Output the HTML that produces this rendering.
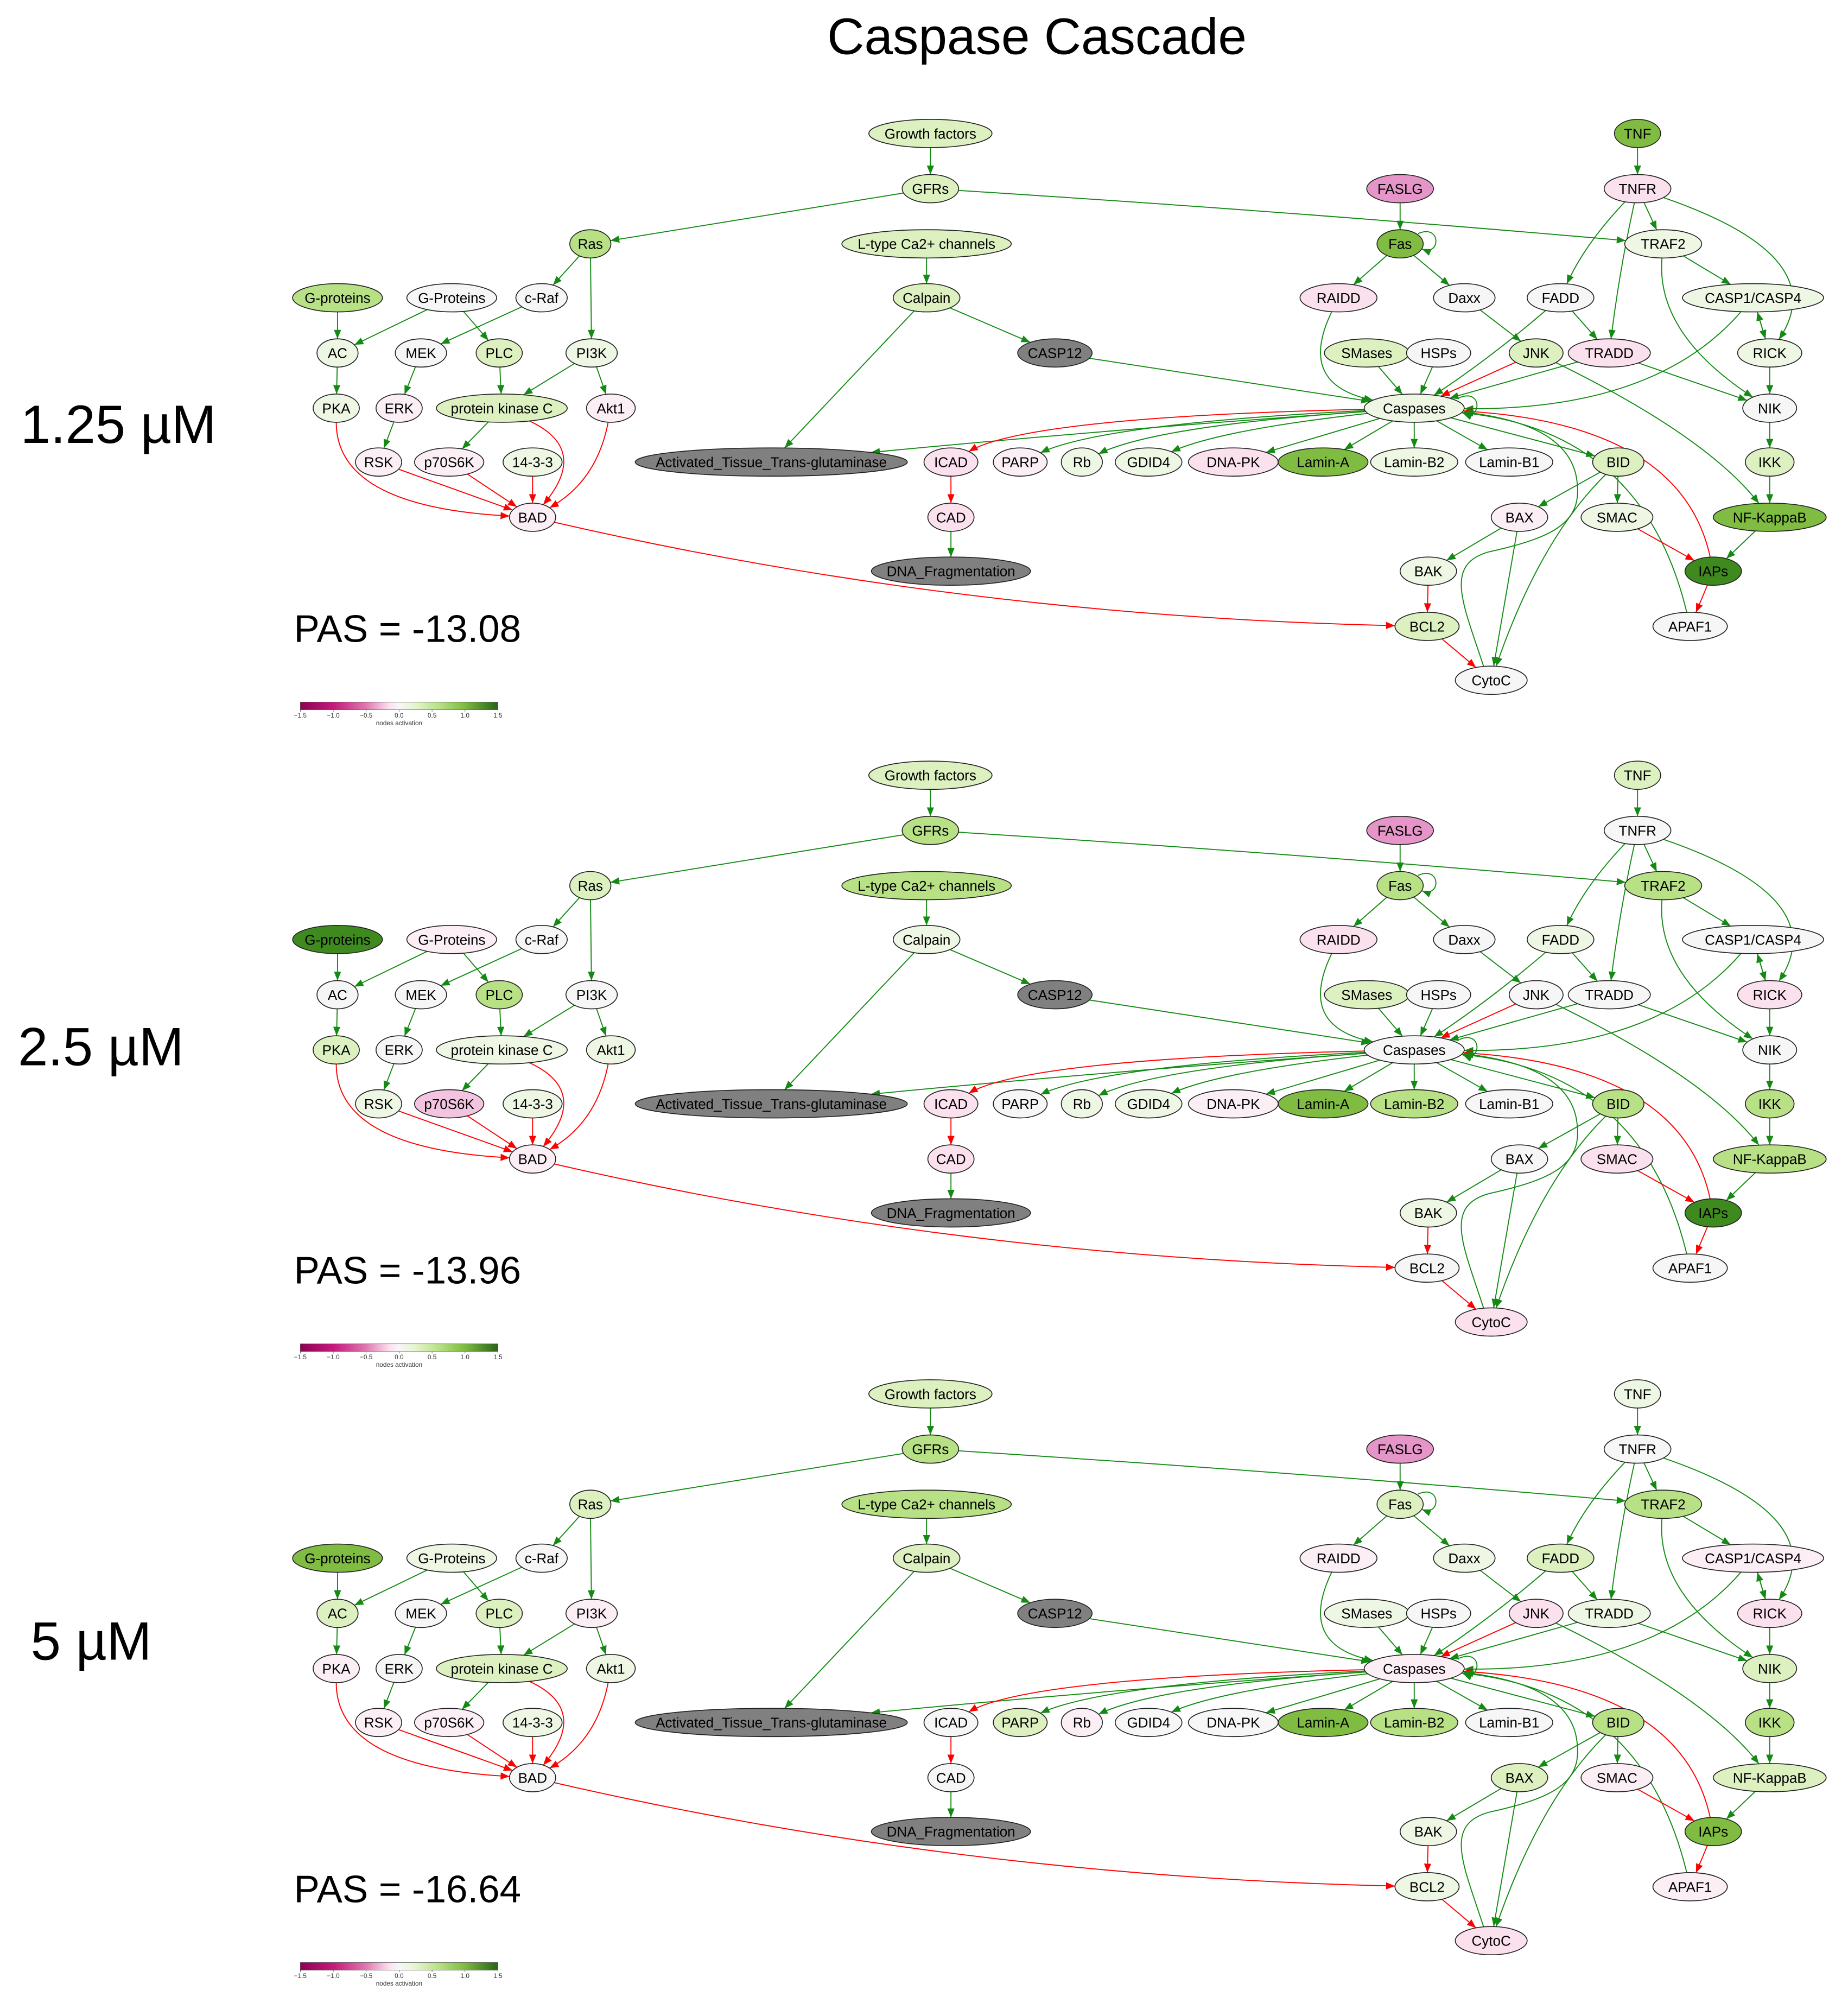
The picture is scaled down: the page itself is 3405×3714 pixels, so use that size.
<!DOCTYPE html>
<html><head><meta charset="utf-8">
<style>
html,body{margin:0;padding:0;background:#fff}
svg{display:block}
text{font-family:"Liberation Sans",Arial,sans-serif}
</style></head>
<body>
<svg id="s" xmlns="http://www.w3.org/2000/svg" width="3405" height="3714" viewBox="0 0 1440 1570.7">
<defs>
<linearGradient id="cb" x1="0" x2="1" y1="0" y2="0">
<stop offset="0" stop-color="#8e0152"/><stop offset="0.17" stop-color="#c51b7d"/><stop offset="0.33" stop-color="#de77ae"/><stop offset="0.45" stop-color="#fde0ef"/><stop offset="0.5" stop-color="#f7f7f7"/><stop offset="0.58" stop-color="#e6f5d0"/><stop offset="0.7" stop-color="#b8e186"/><stop offset="0.83" stop-color="#7fbc41"/><stop offset="1" stop-color="#276419"/>
</linearGradient>
<marker id="ag" viewBox="0 0 10 10" refX="10" refY="5" markerWidth="7" markerHeight="7" markerUnits="userSpaceOnUse" orient="auto"><path d="M0,1 L10,5 L0,9 z" fill="#138a13"/></marker>
<marker id="ar" viewBox="0 0 10 10" refX="10" refY="5" markerWidth="7" markerHeight="7" markerUnits="userSpaceOnUse" orient="auto"><path d="M0,1 L10,5 L0,9 z" fill="#f00"/></marker>
</defs>
<text x="808" y="42" font-size="40" text-anchor="middle">Caspase Cascade</text>
</svg>
<script>
(function(){
var S=document.getElementById('s'),NS="http://www.w3.org/2000/svg";
function el(t,a,txt){var e=document.createElementNS(NS,t);for(var k in a)e.setAttribute(k,a[k]);if(txt!=null)e.textContent=txt;S.appendChild(e);return e;}
var N={
"Growth factors":[725,104,48],"GFRs":[725,147,22],"TNF":[1276,104,18],"TNFR":[1276,147,26],"FASLG":[1091,147,26],
"Ras":[460,190,16],"L-type Ca2+ channels":[722,190,66],"Fas":[1091,190,18],"TRAF2":[1296,190,30],
"G-proteins":[263,232,35],"G-Proteins":[352,232,35],"c-Raf":[422,232,20],"Calpain":[722,232,26],"RAIDD":[1043,232,30],"Daxx":[1141,232,24],"FADD":[1216,232,26],"CASP1/CASP4":[1366,232,55],
"AC":[263,275,16],"MEK":[328,275,20],"PLC":[389,275,18],"PI3K":[461,275,20],"CASP12":[822,275,29],"SMases":[1065,275,33],"HSPs":[1121,275,25],"JNK":[1197,275,21],"TRADD":[1254,275,32],"RICK":[1379,275,25],
"PKA":[262,318,18],"ERK":[311,318,18],"protein kinase C":[391,318,51],"Akt1":[476,318,19],"Caspases":[1102,318,39],"NIK":[1379,318,21],
"RSK":[295,360,18],"p70S6K":[350,360,27],"14-3-3":[415,360,23],"Activated_Tissue_Trans-glutaminase":[601,360,106],"ICAD":[741,360,21],"PARP":[795,360,21],"Rb":[843,360,16],"GDID4":[895,360,26],"DNA-PK":[961,360,35],"Lamin-A":[1031,360,35],"Lamin-B2":[1102,360,34],"Lamin-B1":[1176,360,34],"BID":[1261,360,20],"IKK":[1379,360,19],
"BAD":[415,403,18],"CAD":[741,403,18],"BAX":[1184,403,22],"SMAC":[1260,403,28],"NF-KappaB":[1379,403,44],
"DNA_Fragmentation":[741,445,62],"BAK":[1113,445,22],"IAPs":[1335,445,22],"BCL2":[1112,488,25],"APAF1":[1317,488,29],"CytoC":[1162,530,28]};
var RY=11;
var E=[
["Growth factors","GFRs","g"],["GFRs","Ras","g"],["GFRs","TRAF2","g",[1010,165]],["TNF","TNFR","g"],["TNFR","TRAF2","g"],["TNFR","FADD","g",[1235,190]],["TNFR","TRADD","g",[1262,210]],["TNFR","RICK","g",[1430,200]],
["FASLG","Fas","g"],["Fas","RAIDD","g"],["Fas","Daxx","g"],["Ras","c-Raf","g"],["Ras","PI3K","g"],["L-type Ca2+ channels","Calpain","g"],["Calpain","CASP12","g"],["Calpain","Activated_Tissue_Trans-glutaminase","g"],
["G-proteins","AC","g"],["G-Proteins","AC","g"],["G-Proteins","PLC","g"],["c-Raf","MEK","g"],["AC","PKA","g"],["MEK","ERK","g"],["PLC","protein kinase C","g"],["PI3K","protein kinase C","g"],["PI3K","Akt1","g"],["ERK","RSK","g"],["protein kinase C","p70S6K","g"],
["protein kinase C","BAD","r",[460,350]],["PKA","BAD","r",[262,395]],["RSK","BAD","r"],["p70S6K","BAD","r"],["14-3-3","BAD","r"],["Akt1","BAD","r",[465,375]],["BAD","BCL2","r",[750,480]],
["CASP12","Caspases","g"],["RAIDD","Caspases","g",[1010,300]],["SMases","Caspases","g"],["HSPs","Caspases","g"],["Daxx","JNK","g"],["FADD","Caspases","g",[1160,280]],["FADD","TRADD","g"],["JNK","Caspases","r"],["JNK","NF-KappaB","g",[1330,340]],
["TRADD","Caspases","g"],["TRADD","NIK","g"],["TRAF2","CASP1/CASP4","g"],["TRAF2","NIK","g",[1290,260]],["CASP1/CASP4","RICK","g"],["RICK","CASP1/CASP4","g"],["CASP1/CASP4","Caspases","g",[1290,320]],["RICK","NIK","g"],["NIK","IKK","g"],["IKK","NF-KappaB","g"],["NF-KappaB","IAPs","g"],
["Caspases","Activated_Tissue_Trans-glutaminase","g",[860,335]],["Caspases","ICAD","r",[800,325]],["Caspases","PARP","g",[860,330]],["Caspases","Rb","g",[900,332]],["Caspases","GDID4","g",[950,335]],["Caspases","DNA-PK","g"],["Caspases","Lamin-A","g"],["Caspases","Lamin-B2","g"],["Caspases","Lamin-B1","g"],["Caspases","BID","g"],
["IAPs","Caspases","r",[1310,330]],["APAF1","Caspases","g",[1280,335]],["BID","BAX","g"],["BID","SMAC","g"],["BID","CytoC","g",[1200,420]],["BAX","BAK","g"],["BAX","CytoC","g"],["BAK","BCL2","r"],["BCL2","CytoC","r"],["SMAC","IAPs","r"],["IAPs","APAF1","r"],["ICAD","CAD","r"],["CAD","DNA_Fragmentation","g"]];
var C={dg:"#3f8a1f",g3:"#7fbc41",g2:"#b8e186",g1:"#dcf0c0",g0:"#eef6e4",w:"#f6f6f6",p0:"#fbeef4",p1:"#fbe0ee",p2:"#f3c4e0",p3:"#e595c8",gr:"#808080"};
var P=[
{off:0,label:"1.25 µM",lx:16,ly:345,pas:"PAS = -13.08",col:{"Growth factors":"g1","GFRs":"g1","TNF":"g3","TNFR":"p1","FASLG":"p3","Ras":"g2","L-type Ca2+ channels":"g1","Fas":"g3","TRAF2":"g0","G-proteins":"g2","G-Proteins":"w","c-Raf":"w","Calpain":"g1","RAIDD":"p1","Daxx":"w","FADD":"w","CASP1/CASP4":"g0","AC":"g0","MEK":"w","PLC":"g1","PI3K":"g0","CASP12":"gr","SMases":"g1","HSPs":"w","JNK":"g1","TRADD":"p1","RICK":"g0","PKA":"g0","ERK":"p0","protein kinase C":"g1","Akt1":"p0","Caspases":"g0","NIK":"w","RSK":"p0","p70S6K":"p0","14-3-3":"g0","Activated_Tissue_Trans-glutaminase":"gr","ICAD":"p1","PARP":"p0","Rb":"g0","GDID4":"g0","DNA-PK":"p1","Lamin-A":"g3","Lamin-B2":"g0","Lamin-B1":"w","BID":"g1","IKK":"g1","BAD":"p0","CAD":"p1","BAX":"p0","SMAC":"g0","NF-KappaB":"g3","DNA_Fragmentation":"gr","BAK":"g0","IAPs":"dg","BCL2":"g1","APAF1":"w","CytoC":"w"}},
{off:500,label:"2.5 µM",lx:14,ly:830,pas:"PAS = -13.96",col:{"Growth factors":"g1","GFRs":"g2","TNF":"g1","TNFR":"w","FASLG":"p3","Ras":"g1","L-type Ca2+ channels":"g2","Fas":"g2","TRAF2":"g2","G-proteins":"dg","G-Proteins":"p0","c-Raf":"w","Calpain":"g0","RAIDD":"p1","Daxx":"w","FADD":"g0","CASP1/CASP4":"w","AC":"w","MEK":"w","PLC":"g2","PI3K":"w","CASP12":"gr","SMases":"g1","HSPs":"w","JNK":"w","TRADD":"w","RICK":"p1","PKA":"g1","ERK":"w","protein kinase C":"g0","Akt1":"g0","Caspases":"w","NIK":"w","RSK":"g0","p70S6K":"p2","14-3-3":"g0","Activated_Tissue_Trans-glutaminase":"gr","ICAD":"p1","PARP":"w","Rb":"g0","GDID4":"g0","DNA-PK":"p0","Lamin-A":"g3","Lamin-B2":"g2","Lamin-B1":"w","BID":"g2","IKK":"g2","BAD":"p0","CAD":"p1","BAX":"w","SMAC":"p1","NF-KappaB":"g2","DNA_Fragmentation":"gr","BAK":"g0","IAPs":"dg","BCL2":"w","APAF1":"w","CytoC":"p1"}},
{off:982,label:"5 µM",lx:24,ly:1293,pas:"PAS = -16.64",col:{"Growth factors":"g1","GFRs":"g2","TNF":"g0","TNFR":"w","FASLG":"p3","Ras":"g1","L-type Ca2+ channels":"g2","Fas":"g1","TRAF2":"g2","G-proteins":"g3","G-Proteins":"g0","c-Raf":"w","Calpain":"g1","RAIDD":"p0","Daxx":"g0","FADD":"g1","CASP1/CASP4":"p0","AC":"g1","MEK":"w","PLC":"g1","PI3K":"p0","CASP12":"gr","SMases":"g0","HSPs":"w","JNK":"p1","TRADD":"g0","RICK":"p1","PKA":"p0","ERK":"w","protein kinase C":"g1","Akt1":"g0","Caspases":"p0","NIK":"g1","RSK":"p0","p70S6K":"p0","14-3-3":"g0","Activated_Tissue_Trans-glutaminase":"gr","ICAD":"w","PARP":"g1","Rb":"p0","GDID4":"w","DNA-PK":"w","Lamin-A":"g3","Lamin-B2":"g2","Lamin-B1":"w","BID":"g2","IKK":"g2","BAD":"w","CAD":"w","BAX":"g1","SMAC":"p0","NF-KappaB":"g1","DNA_Fragmentation":"gr","BAK":"g0","IAPs":"g3","BCL2":"g0","APAF1":"p0","CytoC":"p1"}}];
function bp(n,tx,ty,o){var x=n[0],y=n[1]+o,dx=tx-x,dy=ty-y;var t=1/Math.sqrt((dx/n[2])*(dx/n[2])+(dy/RY)*(dy/RY));return [x+dx*t,y+dy*t];}
P.forEach(function(p){
var o=p.off;
el("text",{x:p.lx,y:p.ly,"font-size":42},p.label);
el("text",{x:229,y:500+o,"font-size":30},p.pas);
var cy=547+o;
el("rect",{x:234,y:cy,width:154,height:6,fill:"url(#cb)",stroke:"#555","stroke-width":0.3});
var tk=["−1.5","−1.0","−0.5","0.0","0.5","1.0","1.5"];
for(var i=0;i<7;i++){var tx=234+i*154/6;el("line",{x1:tx,y1:cy+6,x2:tx,y2:cy+7.5,stroke:"#333","stroke-width":0.3});el("text",{x:tx,y:cy+12,"font-size":5,"text-anchor":"middle",fill:"#333"},tk[i]);}
el("text",{x:311,y:cy+18,"font-size":5,"text-anchor":"middle",fill:"#333"},"nodes activation");
E.forEach(function(e){
var a=N[e[0]],b=N[e[1]],col=e[2]=="g"?"#138a13":"#f00",m=e[2]=="g"?"url(#ag)":"url(#ar)";
var c=e[3];var d;
if(c){var cx=c[0],cyy=c[1]+o;var s=bp(a,cx,cyy,o),t=bp(b,cx,cyy,o);d="M"+s[0]+","+s[1]+" Q"+cx+","+cyy+" "+t[0]+","+t[1];}
else{var s=bp(a,b[0],b[1]+o,o),t=bp(b,a[0],a[1]+o,o);d="M"+s[0]+","+s[1]+" L"+t[0]+","+t[1];}
el("path",{d:d,fill:"none",stroke:col,"stroke-width":0.8,"marker-end":m});
});
// CytoC -> Caspases winding curve
var y=function(v){return v+o;};
el("path",{d:"M1156,"+y(519)+" C1140,"+y(470)+" 1125,"+y(440)+" 1160,"+y(430)+" C1215,"+y(418)+" 1235,"+y(405)+" 1228,"+y(370)+" C1220,"+y(335)+" 1175,"+y(325)+" 1141,"+y(321),fill:"none",stroke:"#138a13","stroke-width":0.8,"marker-end":"url(#ag)"});
// self loops
[["Fas"],["Caspases"]].forEach(function(q){var n=N[q[0]],x=n[0]+n[2],yy=n[1]+o;
el("path",{d:"M"+(x-4)+","+(yy-8)+" C"+(x+14)+","+(yy-16)+" "+(x+14)+","+(yy+10)+" "+(x-1)+","+(yy+4),fill:"none",stroke:"#138a13","stroke-width":0.8,"marker-end":"url(#ag)"});});
for(var k in N){var n=N[k],f=C[p.col[k]]||C.w;
el("ellipse",{cx:n[0],cy:n[1]+o,rx:n[2],ry:RY,fill:f,stroke:"#222","stroke-width":0.7});
el("text",{x:n[0],y:n[1]+o+4,"font-size":11,"text-anchor":"middle",fill:"#000"},k);}
});
})();
</script>
</body></html>
